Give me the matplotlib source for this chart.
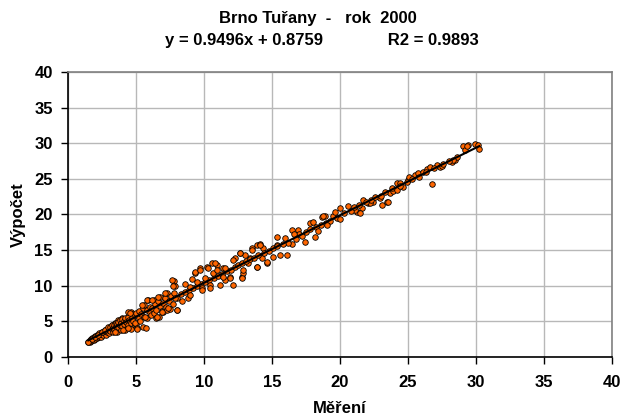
import numpy as np
import matplotlib
matplotlib.use("Agg")
import matplotlib.pyplot as plt

plt.rcParams['font.family'] = ['Liberation Sans', 'DejaVu Sans']

# regression shown in the chart header
slope = 0.9496
intercept = 0.8759
r2 = 0.9893

# measured (Měření) values
mereni = [
    1.5, 1.6, 1.6, 1.7, 1.7, 1.8, 1.8, 1.9, 1.9, 2.0, 2.0, 2.1, 2.1, 2.2, 2.2, 2.3,
    2.3, 2.4, 2.4, 2.5, 2.5, 2.6, 2.6, 2.7, 2.7, 2.8, 2.8, 2.9, 2.9, 3.0, 3.0, 3.0,
    1.49, 1.74, 1.99, 2.23, 2.48, 2.72, 2.96, 3.21, 3.46, 3.70, 3.95,
    3.1, 3.1, 3.2, 3.2, 3.3, 3.3, 3.4, 3.4, 3.5, 3.5, 3.6, 3.6, 3.6, 3.7, 3.7, 3.8,
    3.8, 3.9, 3.9, 4.0, 4.0, 4.1, 4.1, 4.2, 4.2, 4.3, 4.4, 4.4, 4.5, 4.6, 4.6, 4.6,
    4.7, 4.7, 4.8, 4.9, 4.9, 5.0, 5.0,
    4.43, 4.56, 4.93, 5.05, 5.54, 4.07, 4.43, 3.46,
    5.1, 5.2, 5.2, 5.3, 5.4, 5.5, 5.6, 5.6, 5.7, 5.8, 5.8, 5.9, 6.0, 6.0, 6.1, 6.2,
    6.3, 6.3, 6.4, 6.5, 6.5, 6.6, 6.7, 6.8, 6.8, 6.9, 7.0, 7.0, 7.1, 7.2, 7.3, 7.3,
    7.4, 7.5, 7.6, 7.7, 7.8, 7.8, 7.9, 8.0, 8.0,
    5.42, 5.79, 6.15, 6.64, 7.13, 7.63, 7.74, 5.66, 6.52, 6.89, 7.38, 7.99, 7.87,
    8.3, 8.6, 8.6, 8.4, 8.8, 8.9, 9.0, 9.1, 9.2, 9.5, 9.8, 10.1, 10.4, 10.7, 11.0,
    11.3, 11.7, 12.0,
    8.97, 9.34, 9.71, 10.2, 10.57, 10.93, 10.07, 10.68, 11.42, 9.83, 10.44, 11.18,
    11.54, 11.91, 12.15, 12.28, 12.65, 13.01, 13.38, 12.77, 12.89, 13.26, 13.51,
    13.88, 14.12, 14.36, 13.88, 14.61, 14.24, 15.35, 15.59, 16.08, 15.35, 15.96,
    9.46, 9.83, 10.44, 9.34, 9.71, 10.32, 10.81, 10.93, 11.54, 11.42, 11.91, 12.77,
    12.89, 12.15, 12.65, 13.51, 14.12, 13.88, 14.61,
    12.3, 12.5, 12.8, 13.1, 13.4, 13.7, 14.0, 14.4, 14.8, 15.1, 15.4,
    15.10, 16.93, 16.45, 17.43, 18.16, 17.79, 18.04, 18.65, 18.90, 18.77,
    16.5, 16.8, 17.0, 17.2, 17.5, 17.8, 18.2, 18.4, 18.6, 19.0, 19.3, 19.5, 16.2,
    15.8, 16.6,
    19.63, 20.0, 20.61, 19.76, 20.0, 21.23, 21.6, 21.71, 22.08, 22.45, 22.94, 23.07,
    23.43, 23.68, 19.02, 21.10, 21.47, 22.21, 23.55,
    20.3, 20.8, 21.0, 21.4, 21.9, 22.3, 22.6, 23.0, 23.3, 23.9,
    23.80, 24.21, 24.41, 24.17, 24.65, 25.02, 25.10, 25.51, 25.76, 26.13, 26.38,
    26.62, 26.79, 27.15, 27.35, 28.21, 28.46, 28.58, 28.33, 27.48,
    24.4, 24.9, 25.3, 25.8, 26.3, 26.9, 27.6, 28.0,
    29.07, 29.19, 29.43, 29.32, 29.93, 30.17, 30.24,
]

# calculated (Výpočet) values
vypocet = [
    2.1, 2.0, 2.3, 2.2, 2.5, 2.3, 2.6, 2.4, 2.7, 2.5, 2.9, 2.6, 3.0, 2.7, 3.1, 2.8,
    3.3, 3.0, 2.7, 3.2, 3.5, 3.0, 3.4, 3.3, 3.7, 3.1, 3.6, 3.4, 3.9, 3.3, 3.8, 4.1,
    2.11, 2.44, 2.81, 3.05, 3.51, 3.75, 4.13, 4.45, 4.78, 5.15, 5.39,
    3.6, 4.2, 3.9, 4.4, 3.5, 4.1, 4.5, 3.9, 4.3, 4.8, 3.4, 4.0, 4.6, 4.9, 4.2, 5.1,
    4.5, 3.7, 4.8, 5.3, 4.3, 5.0, 4.6, 3.7, 5.4, 4.9, 5.6, 4.4, 5.2, 6.3, 3.9, 4.8,
    6.0, 5.5, 5.0, 5.8, 4.4, 6.1, 4.6,
    6.32, 6.10, 4.69, 3.99, 4.21, 3.75, 3.99, 3.51,
    3.9, 5.4, 6.4, 5.0, 6.0, 6.8, 7.2, 5.6, 4.1, 5.5, 6.5, 7.9, 6.2, 7.0, 5.8, 6.8,
    7.9, 6.1, 7.4, 5.5, 6.6, 7.8, 5.6, 8.4, 7.1, 6.4, 7.6, 6.3, 8.2, 7.0, 8.9, 6.6,
    7.8, 6.7, 8.5, 7.4, 10.7, 8.9, 9.9, 8.2, 6.5,
    7.26, 7.96, 7.96, 8.43, 8.90, 10.77, 9.97, 5.62, 5.62, 6.32, 6.80, 6.56, 8.20,
    8.8, 9.1, 10.2, 7.8, 8.3, 9.4, 8.6, 10.9, 9.6, 9.9, 10.2, 10.5, 10.8, 11.0, 11.3,
    11.6, 12.0, 12.2,
    9.83, 11.71, 12.42, 12.64, 13.12, 12.88, 11.01, 11.71, 12.42, 9.61, 10.07, 10.07,
    10.77, 11.24, 10.07, 13.82, 14.52, 14.28, 13.82, 11.24, 11.71, 13.12, 15.22,
    15.69, 15.79, 15.22, 12.64, 13.12, 13.82, 16.85, 14.28, 14.28, 15.69, 16.63,
    10.53, 9.37, 9.61, 11.94, 12.18, 12.42, 13.12, 12.18, 12.42, 11.24, 11.01, 11.01,
    12.18, 13.58, 14.52, 14.99, 15.69, 12.64, 13.34,
    12.6, 12.9, 13.1, 13.4, 13.7, 13.9, 14.3, 14.6, 14.9, 15.3, 15.5,
    14.04, 17.79, 17.79, 16.15, 16.85, 18.82, 18.96, 19.66, 19.76, 19.76,
    15.8, 16.5, 17.2, 16.9, 17.5, 17.9, 18.2, 17.6, 18.5, 18.8, 19.1, 19.7, 16.0,
    15.9, 17.3,
    20.37, 20.84, 21.17, 19.44, 19.30, 20.37, 20.84, 22.01, 21.54, 21.77, 22.25, 21.31,
    21.77, 22.95, 18.5, 20.60, 20.14, 21.54, 21.77,
    20.2, 20.5, 21.0, 21.3, 21.7, 22.0, 22.4, 22.6, 23.1, 23.3,
    23.65, 24.35, 24.44, 23.41, 23.79, 24.82, 25.28, 25.52, 25.76, 25.98, 26.32,
    26.60, 24.30, 26.92, 26.69, 27.39, 27.63, 28.09, 27.63, 26.78,
    24.0, 24.5, 24.9, 25.3, 25.9, 26.5, 27.1, 27.5,
    29.59, 29.03, 29.73, 29.59, 29.83, 29.73, 29.13,
]

ticks = [0, 5, 10, 15, 20, 25, 30, 35, 40]

fig = plt.figure(figsize=(6.21, 4.18), dpi=100)
ax = fig.add_axes([0.1095, 0.1467, 0.876, 0.681])

ax.scatter(mereni, vypocet, s=16, c='#FF6600', edgecolors='black',
           linewidths=0.6, zorder=3)

xl = np.array([min(mereni), max(mereni)])
ax.plot(xl, slope * xl + intercept, color='black', lw=1.5, zorder=4)

ax.set_xlim(0, 40)
ax.set_ylim(0, 40)
ax.set_xticks(ticks)
ax.set_yticks(ticks)
ax.grid(True, color='#b8b8b8', lw=1)
ax.set_axisbelow(True)
ax.tick_params(direction='out', length=5, width=1, labelsize=12)
ax.tick_params(axis='x', pad=8)
ax.tick_params(axis='y', pad=6)
for lab in ax.get_xticklabels() + ax.get_yticklabels():
    lab.set_fontweight('bold')

for s in ['left', 'bottom']:
    ax.spines[s].set_color('black')
    ax.spines[s].set_linewidth(1.2)
for s in ['top', 'right']:
    ax.spines[s].set_color('#808080')
    ax.spines[s].set_linewidth(1.2)

ax.set_xlabel('Měření', fontsize=12, fontweight='bold', labelpad=8)
ax.set_ylabel('Výpočet', fontsize=12, fontweight='bold', labelpad=6)

fig.text(0.512, 0.955, 'Brno Tuřany  -   rok  2000', ha='center', va='center',
         fontsize=12, fontweight='bold')
fig.text(0.518, 0.903,
         'y = %.4fx + %.4f              R2 = %.4f' % (slope, intercept, r2),
         ha='center', va='center', fontsize=12, fontweight='bold')

fig.savefig('out.png', dpi=100)
